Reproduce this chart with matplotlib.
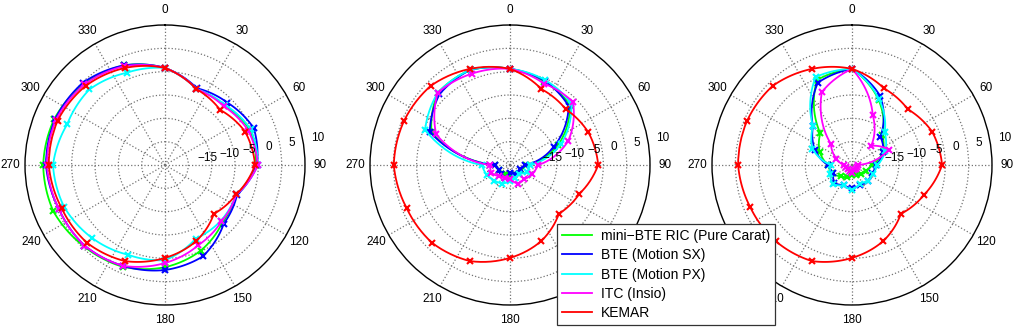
import numpy as np
import matplotlib
matplotlib.use('Agg')
import matplotlib.pyplot as plt

plt.rcParams['font.family'] = ['Liberation Sans', 'DejaVu Sans']

# Angles of the measured points (degrees, clockwise from front)
angles = [0, 22.5, 45, 67.5, 90, 112.5, 135, 157.5, 180, 202.5, 225, 247.5, 270, 292.5, 315, 337.5]

labels = ['mini\u2212BTE RIC (Pure Carat)', 'BTE (Motion SX)', 'BTE (Motion PX)', 'ITC (Insio)', 'KEMAR']
colors = ['#00ff00', '#0000ff', '#00ffff', '#ff00ff', '#ff0000']

# Panel 1 (dB)
p1_green = [0.8, -2.4, -2.0, -0.3, -0.5, -3.5, -2.6, -0.1, 1.9, 3.6, 4.6, 5.9, 6.1, 5.7, 4.6, 3.1]
p1_blue = [0.8, -2.2, -1.1, 0.6, -0.3, -3.3, -2.2, 1.2, 2.5, 3.4, 4.4, 4.6, 5.5, 5.5, 4.9, 3.1]
p1_cyan = [0.8, -2.4, -1.8, -0.1, -0.1, -3.5, -3.1, -2.9, 0.4, 0.8, 2.1, 3.4, 4.0, 2.7, 2.9, 1.4]
p1_magenta = [0.8, -2.4, -2.2, -0.7, -0.1, -3.5, -2.9, -1.4, 1.0, 3.4, 4.4, 4.6, 5.3, 5.3, 4.4, 2.9]
p1_red = [0.8, -2.4, -3.3, -1.4, -0.7, -3.5, -5.2, -2.4, -0.1, 2.3, 3.6, 4.0, 4.9, 4.9, 4.0, 2.5]

# Panel 2 (dB)
p2_green = [0.6, -0.7, -1.8, -8.9, -16.6, -17.4, -17.4, -17.9, -17.9, -17.9, -17.4, -17.4, -16.8, -1.8, 1.9, 2.1]
p2_blue = [0.6, -0.5, -2.2, -9.9, -16.8, -17.6, -17.4, -17.9, -18.3, -17.0, -17.2, -17.4, -16.8, -1.4, 1.4, 2.1]
p2_cyan = [0.6, -0.3, -1.4, -8.2, -15.7, -16.1, -17.4, -17.0, -16.6, -15.7, -15.3, -14.6, -14.0, -0.3, 1.9, 2.1]
p2_magenta = [0.6, -1.1, -0.9, -6.5, -14.0, -14.9, -15.7, -15.7, -17.0, -17.0, -16.6, -15.7, -15.7, -2.9, 1.9, 1.2]
p2_red = [0.6, -2.4, -3.1, -1.8, -1.1, -3.9, -5.2, -2.4, -0.1, 2.3, 3.6, 4.0, 4.9, 4.6, 4.0, 2.3]

# Panel 3 (dB)
p3_green = [0.6, -5.0, -10.8, -12.9, -15.7, -16.8, -17.2, -17.6, -17.9, -17.2, -16.6, -15.3, -14.9, -12.5, -10.4, -0.3]
p3_blue = [0.6, -4.1, -11.4, -12.7, -14.9, -15.3, -15.3, -15.3, -15.1, -15.3, -14.6, -15.7, -14.9, -11.4, -8.2, -0.9]
p3_cyan = [0.6, -4.8, -10.1, -12.3, -14.6, -15.1, -15.3, -15.7, -14.6, -15.3, -14.2, -14.9, -15.5, -10.8, -8.2, 0.4]
p3_magenta = [0.6, -8.4, -14.2, -11.4, -18.7, -18.9, -18.7, -18.9, -18.3, -18.7, -18.9, -18.7, -18.3, -16.4, -13.6, -3.1]
p3_red = [0.6, -2.2, -3.1, -1.4, -0.7, -3.3, -5.2, -2.4, -0.1, 2.3, 3.1, 3.6, 4.4, 4.4, 4.0, 2.3]

panels = [
    [p1_green, p1_blue, p1_cyan, p1_magenta, p1_red],
    [p2_green, p2_blue, p2_cyan, p2_magenta, p2_red],
    [p3_green, p3_blue, p3_cyan, p3_magenta, p3_red],
]

r_min, r_max = -20, 10
r_ticks = [-15, -10, -5, 0, 5, 10]
r_label_pos = [-10.8, -5.9, -1.6, 2.5, 7.6, 13.2]
theta_ticks = list(range(0, 360, 30))

fig = plt.figure(figsize=(10.24, 3.27), dpi=100)
centers = [165, 510, 852]
rad_px = 140

# close the curve at 360 so the last segment goes forward, not back round
th = np.deg2rad(angles + [360])

for i, series in enumerate(panels):
    left = (centers[i] - rad_px) / 1024
    ax = fig.add_axes([left, 22 / 327, 2 * rad_px / 1024, 2 * rad_px / 327], projection='polar')
    ax.set_theta_zero_location('N')
    ax.set_theta_direction(-1)
    ax.set_ylim(r_min, r_max)
    ax.set_yticks(r_ticks[:-1])
    ax.set_yticklabels([])
    ax.set_xticks(np.deg2rad(theta_ticks))
    ax.set_xticklabels([])
    ax.grid(True, linestyle=':', color='0.45', linewidth=0.9)
    ax.spines['polar'].set_color('black')
    ax.spines['polar'].set_linewidth(1.0)

    for vals, col in zip(series, colors):
        r = np.array(vals + [vals[0]])
        # line follows the polar grid between the points (like the gridlines do)
        ln, = ax.plot(th, r, '-', color=col, lw=1.3)
        ln.get_path()._interpolation_steps = 40
        ax.plot(th[:-1], r[:-1], 'x', color=col, ms=5, mew=1.5)

    # angle labels
    for t in theta_ticks:
        ax.text(np.deg2rad(t), 13.2, str(t), ha='center', va='center', fontsize=8.5, clip_on=False)
    # radius labels
    for v, rp in zip(r_ticks, r_label_pos):
        ax.text(np.deg2rad(80), rp, str(v).replace('-', '\u2212'), ha='center', va='center',
                fontsize=8.5, clip_on=False)

leg = fig.legend([plt.Line2D([], [], color=c, lw=1.3) for c in colors], labels,
                 loc='lower left', bbox_to_anchor=(557 / 1024, 2 / 327), fontsize=10,
                 fancybox=False, framealpha=1, edgecolor='0.2', handlelength=2.2,
                 labelspacing=0.38, borderpad=0.35, handletextpad=0.6, borderaxespad=0)
leg.get_frame().set_linewidth(0.9)

fig.savefig('out.png', dpi=100)
